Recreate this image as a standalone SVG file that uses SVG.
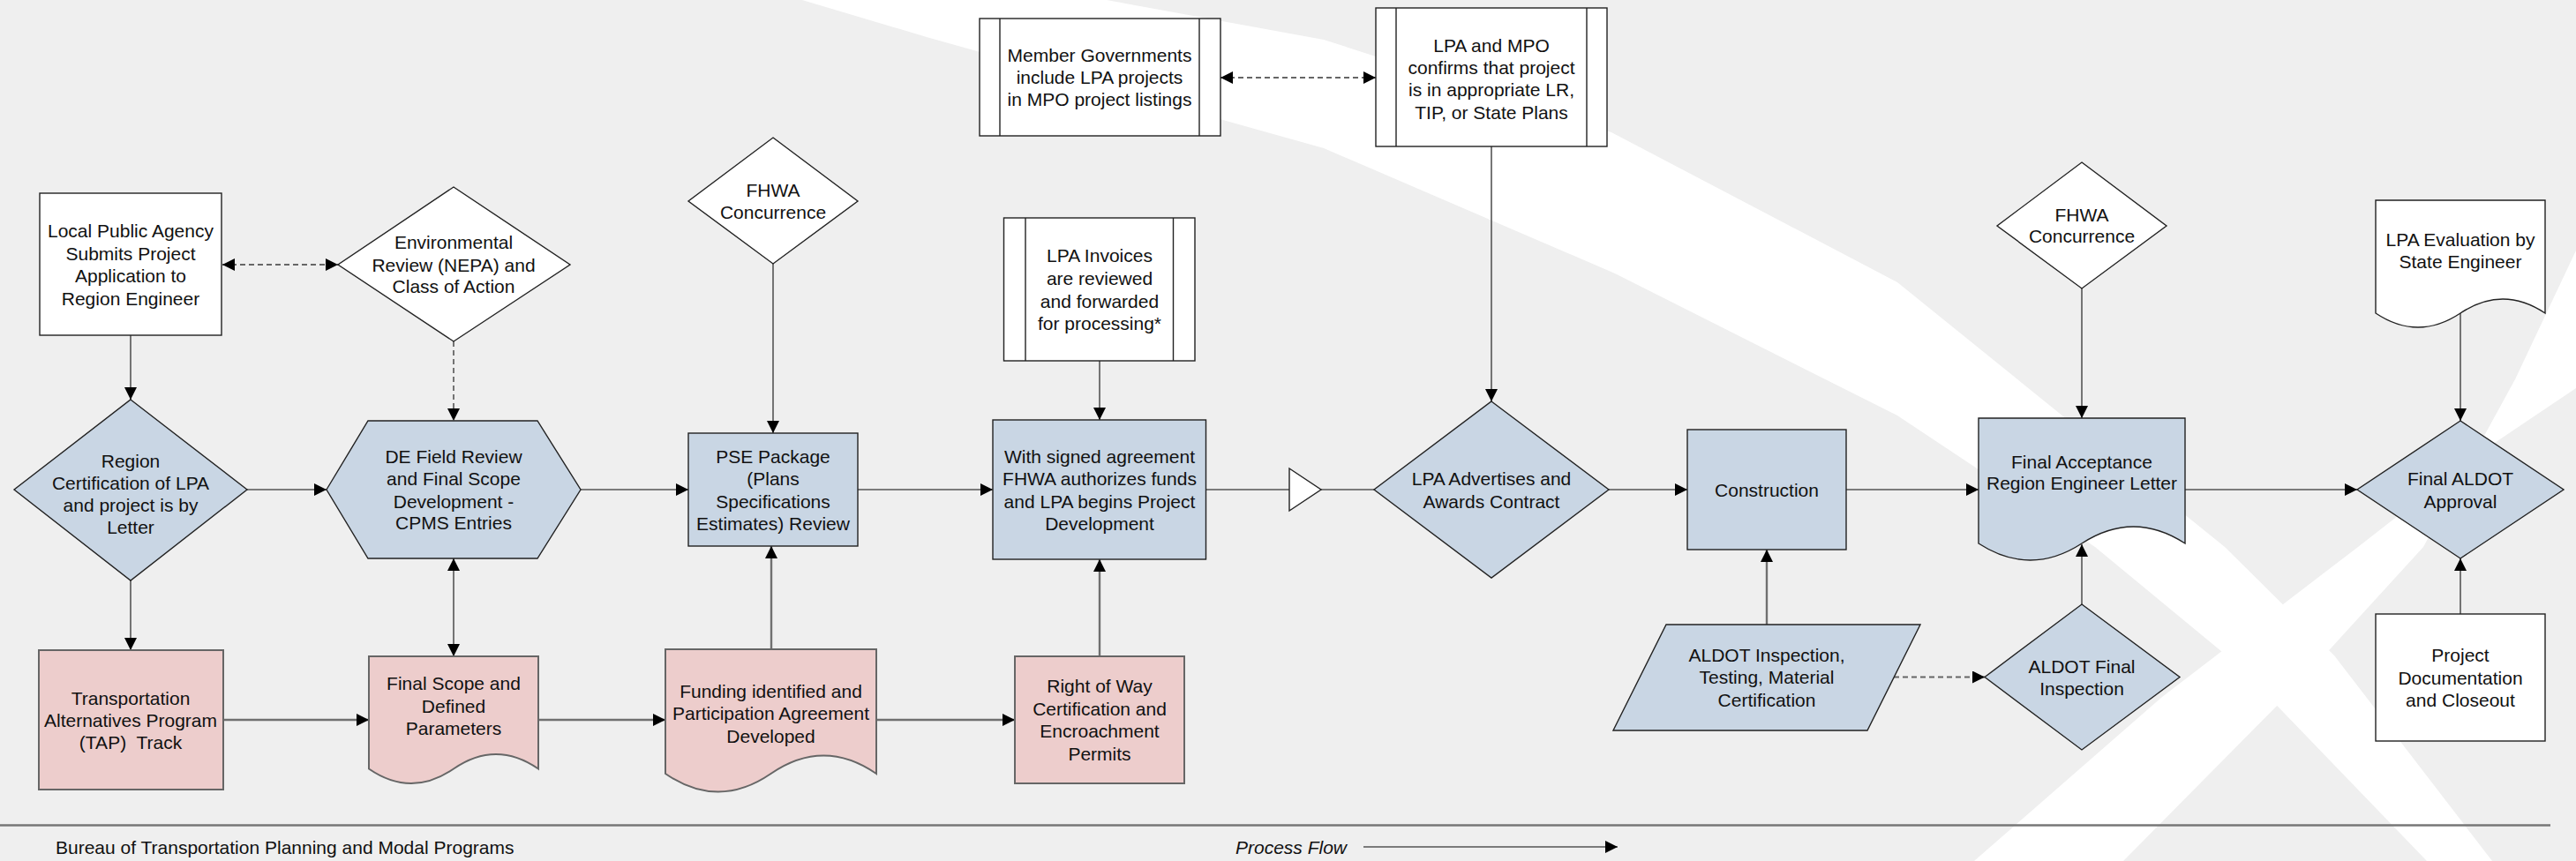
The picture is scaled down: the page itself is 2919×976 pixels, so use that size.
<svg xmlns="http://www.w3.org/2000/svg" width="2919" height="976" viewBox="0 0 2919 976">
<style>
text{font-family:"Liberation Sans",Arial,sans-serif;font-size:21px;fill:#111;text-anchor:middle;dominant-baseline:central}
.w{fill:#fff;stroke:#222;stroke-width:1.4}
.b{fill:#c9d6e4;stroke:#222;stroke-width:1.4}
.p{fill:#edcdcc;stroke:#666;stroke-width:2}
.c{stroke:#555;stroke-width:1.6;fill:none}
.cg{stroke:#707070;stroke-width:2.4;fill:none}
.d{stroke:#666;stroke-width:1.8;fill:none;stroke-dasharray:6 4}
.bar{stroke:#222;stroke-width:1.4}
</style>
<defs>
<marker id="ah" viewBox="0 0 10 10" refX="10" refY="5" markerWidth="14" markerHeight="14" markerUnits="userSpaceOnUse" orient="auto-start-reverse"><path d="M0,0 L10,5 L0,10 z" fill="#000"/></marker>
</defs>
<rect x="0" y="0" width="2919" height="976" fill="#efefef"/>
<g id="background" fill="#ffffff">
<path d="M909,0 L1050,42 L1500,168 L1830,310 L2150,471 L2374,620 L2535,753 L2750,976 L2824,976 L2645,743 L2521,620 L2150,320 L1826,150 L1500,45 L1254,0 Z"/>
<path d="M2919,284 L2850,430 L2746,620 L2600,780 L2406,976 L2237,976 L2450,790 L2672,620 L2800,520 L2919,440 Z"/>
</g>
<g id="connectors">
<line class="c" x1="148" y1="380" x2="148" y2="453" marker-end="url(#ah)"/>
<line class="d" x1="252" y1="300" x2="383" y2="300" marker-start="url(#ah)" marker-end="url(#ah)"/>
<line class="d" x1="514" y1="387" x2="514" y2="477" marker-end="url(#ah)"/>
<line class="c" x1="280" y1="555" x2="370" y2="555" marker-end="url(#ah)"/>
<line class="c" x1="148" y1="658" x2="148" y2="737" marker-end="url(#ah)"/>
<line class="c" x1="514" y1="633" x2="514" y2="744" marker-start="url(#ah)" marker-end="url(#ah)"/>
<line class="c" x1="658" y1="555" x2="780" y2="555" marker-end="url(#ah)"/>
<line class="c" x1="876" y1="299" x2="876" y2="491" marker-end="url(#ah)"/>
<line class="cg" x1="874" y1="736" x2="874" y2="619" marker-end="url(#ah)"/>
<line class="c" x1="972" y1="555" x2="1125" y2="555" marker-end="url(#ah)"/>
<line class="c" x1="1246" y1="409" x2="1246" y2="476" marker-end="url(#ah)"/>
<line class="cg" x1="1246" y1="744" x2="1246" y2="634" marker-end="url(#ah)"/>
<line class="c" x1="1366" y1="555" x2="1461" y2="555"/>
<line class="c" x1="1497" y1="555" x2="1557" y2="555"/>
<line class="d" x1="1383" y1="88" x2="1559" y2="88" marker-start="url(#ah)" marker-end="url(#ah)"/>
<line class="c" x1="1690" y1="166" x2="1690" y2="455" marker-end="url(#ah)"/>
<line class="c" x1="1823" y1="555" x2="1912" y2="555" marker-end="url(#ah)"/>
<line class="cg" x1="2002" y1="708" x2="2002" y2="623" marker-end="url(#ah)"/>
<line class="c" x1="2092" y1="555" x2="2242" y2="555" marker-end="url(#ah)"/>
<line class="d" x1="2146" y1="767.5" x2="2249" y2="767.5" marker-end="url(#ah)"/>
<line class="c" x1="2359" y1="685" x2="2359" y2="617" marker-end="url(#ah)"/>
<line class="c" x1="2359" y1="327" x2="2359" y2="474" marker-end="url(#ah)"/>
<line class="c" x1="2476" y1="555" x2="2671" y2="555" marker-end="url(#ah)"/>
<line class="c" x1="2788" y1="355" x2="2788" y2="477" marker-end="url(#ah)"/>
<line class="c" x1="2788" y1="696" x2="2788" y2="633" marker-end="url(#ah)"/>
<line class="cg" x1="253" y1="816" x2="418" y2="816" marker-end="url(#ah)"/>
<line class="cg" x1="610" y1="816" x2="754" y2="816" marker-end="url(#ah)"/>
<line class="cg" x1="993" y1="816" x2="1150" y2="816" marker-end="url(#ah)"/>
</g>
<g id="n-lpa-submits">
<rect class="w" x="45" y="219" width="206" height="161"/>
<text x="148" y="261">Local Public Agency</text><text x="148" y="287">Submits Project</text><text x="148" y="312">Application to</text><text x="148" y="338">Region Engineer</text>
</g>
<g id="n-env-review">
<polygon class="w" points="514,212 646,300 514,387 383,300"/>
<text x="514" y="274">Environmental</text><text x="514" y="300">Review (NEPA) and</text><text x="514" y="324">Class of Action</text>
</g>
<g id="n-region-cert">
<polygon class="b" points="148,453 280,555 148,658 16,555"/>
<text x="148" y="522">Region</text><text x="148" y="547">Certification of LPA</text><text x="148" y="572">and project is by</text><text x="148" y="597">Letter</text>
</g>
<g id="n-de-field">
<polygon class="b" points="370,555 417,477 609,477 658,555 609,633 417,633"/>
<text x="514" y="517">DE Field Review</text><text x="514" y="542">and Final Scope</text><text x="514" y="568">Development -</text><text x="514" y="592">CPMS Entries</text>
</g>
<g id="n-fhwa1">
<polygon class="w" points="876,156 972,228 876,299 780,228"/>
<text x="876" y="215">FHWA</text><text x="876" y="240">Concurrence</text>
</g>
<g id="n-pse">
<rect class="b" x="780" y="491" width="192" height="128"/>
<text x="876" y="517">PSE Package</text><text x="876" y="542">(Plans</text><text x="876" y="568">Specifications</text><text x="876" y="593">Estimates) Review</text>
</g>
<g id="n-invoices">
<rect class="w" x="1137.5" y="247" width="216.5" height="162"/>
<line class="bar" x1="1162" y1="247" x2="1162" y2="409"/><line class="bar" x1="1329.5" y1="247" x2="1329.5" y2="409"/>
<text x="1246" y="289">LPA Invoices</text><text x="1246" y="315">are reviewed</text><text x="1246" y="341">and forwarded</text><text x="1246" y="366">for processing*</text>
</g>
<g id="n-signed">
<rect class="b" x="1125" y="476" width="241.5" height="158"/>
<text x="1246" y="517">With signed agreement</text><text x="1246" y="542">FHWA authorizes funds</text><text x="1246" y="568">and LPA begins Project</text><text x="1246" y="593">Development</text>
</g>
<g id="n-merge">
<polygon class="w" points="1461,531 1497,555 1461,579"/>
</g>
<g id="n-member-gov">
<rect class="w" x="1110" y="21" width="273" height="133"/>
<line class="bar" x1="1133" y1="21" x2="1133" y2="154"/><line class="bar" x1="1359" y1="21" x2="1359" y2="154"/>
<text x="1246" y="62">Member Governments</text><text x="1246" y="87">include LPA projects</text><text x="1246" y="112">in MPO project listings</text>
</g>
<g id="n-lpa-mpo">
<rect class="w" x="1559" y="9" width="262" height="157"/>
<line class="bar" x1="1582" y1="9" x2="1582" y2="166"/><line class="bar" x1="1798" y1="9" x2="1798" y2="166"/>
<text x="1690" y="51">LPA and MPO</text><text x="1690" y="76">confirms that project</text><text x="1690" y="101">is in appropriate LR,</text><text x="1690" y="127">TIP, or State Plans</text>
</g>
<g id="n-advertises">
<polygon class="b" points="1690,455 1823,555 1690,655 1557,555"/>
<text x="1690" y="542">LPA Advertises and</text><text x="1690" y="568">Awards Contract</text>
</g>
<g id="n-construction">
<rect class="b" x="1912" y="487" width="180" height="136"/>
<text x="2002" y="555">Construction</text>
</g>
<g id="n-aldot-insp">
<polygon class="b" points="1888,708 2176,708 2116,828 1828,828"/>
<text x="2002" y="742">ALDOT Inspection,</text><text x="2002" y="767">Testing, Material</text><text x="2002" y="793">Certification</text>
</g>
<g id="n-final-insp">
<polygon class="b" points="2359,685 2470,767.5 2359,850 2249,767.5"/>
<text x="2359" y="755">ALDOT Final</text><text x="2359" y="780">Inspection</text>
</g>
<g id="n-final-accept">
<path class="b" d="M2242,474 H2476 V616 Q2417.5,578 2359,616 Q2300.5,654 2242,616 Z"/>
<text x="2359" y="523">Final Acceptance</text><text x="2359" y="547">Region Engineer Letter</text>
</g>
<g id="n-fhwa2">
<polygon class="w" points="2359,184 2455,256 2359,327 2263,256"/>
<text x="2359" y="243">FHWA</text><text x="2359" y="267">Concurrence</text>
</g>
<g id="n-final-approval">
<polygon class="b" points="2788,477 2905,555 2788,633 2671,555"/>
<text x="2788" y="542">Final ALDOT</text><text x="2788" y="568">Approval</text>
</g>
<g id="n-lpa-eval">
<path class="w" d="M2692,227 H2884 V355 Q2836,323 2788,355 Q2740,387 2692,355 Z"/>
<text x="2788" y="271">LPA Evaluation by</text><text x="2788" y="296">State Engineer</text>
</g>
<g id="n-project-doc">
<rect class="w" x="2692" y="696" width="192" height="144"/>
<text x="2788" y="742">Project</text><text x="2788" y="768">Documentation</text><text x="2788" y="793">and Closeout</text>
</g>
<g id="n-tap">
<rect class="p" x="44" y="737" width="209" height="158"/>
<text x="148" y="791">Transportation</text><text x="148" y="816">Alternatives Program</text><text x="148" y="841" style="white-space:pre">(TAP)  Track</text>
</g>
<g id="n-final-scope">
<path class="p" d="M418,744 H610 V871.5 Q562,838.5 514,871.5 Q466,904.5 418,871.5 Z"/>
<text x="514" y="774">Final Scope and</text><text x="514" y="800">Defined</text><text x="514" y="825">Parameters</text>
</g>
<g id="n-funding">
<path class="p" d="M754,736 H993 V877 Q933.25,836 873.5,877 Q813.75,918 754,877 Z"/>
<text x="873.5" y="783">Funding identified and</text><text x="873.5" y="808">Participation Agreement</text><text x="873.5" y="834">Developed</text>
</g>
<g id="n-row">
<rect class="p" x="1150" y="744" width="192" height="144"/>
<text x="1246" y="777">Right of Way</text><text x="1246" y="803">Certification and</text><text x="1246" y="828">Encroachment</text><text x="1246" y="854">Permits</text>
</g>
<g id="footer">
<line x1="0" y1="935.5" x2="2890" y2="935.5" stroke="#777" stroke-width="2.5"/>
<text x="63" y="960" style="text-anchor:start">Bureau of Transportation Planning and Modal Programs</text>
<text x="1400" y="960" style="text-anchor:start;font-style:italic">Process Flow</text>
<line x1="1545" y1="960" x2="1833" y2="960" stroke="#555" stroke-width="1.6" marker-end="url(#ah)"/>
</g>
</svg>
